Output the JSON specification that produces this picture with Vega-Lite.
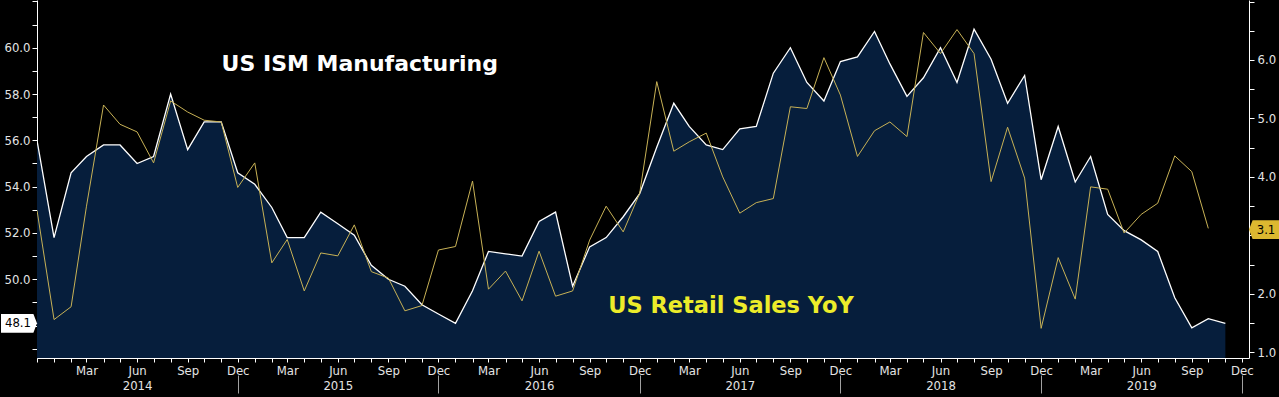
{
  "$schema": "https://vega.github.io/schema/vega-lite/v6.json",
  "width": 1212,
  "height": 358,
  "autosize": {"type": "none"},
  "padding": {"left": 37, "top": 0, "right": 30, "bottom": 39},
  "background": "#000000",
  "config": {
    "view": {"stroke": null},
    "font": "Liberation Sans Narrow, DejaVu Sans Condensed, Liberation Sans, sans-serif",
    "axis": {
      "grid": false,
      "title": null,
      "domainColor": "#ffffff",
      "tickColor": "#ffffff",
      "labelColor": "#e4e4e4",
      "labelFontSize": 13,
      "labelOverlap": false,
      "labelFont": "Liberation Sans Narrow, DejaVu Sans Condensed, Liberation Sans, sans-serif"
    }
  },
  "datasets": {
    "ism": [
      {"date": "2013-12-01", "value": 56.0},
      {"date": "2014-01-01", "value": 51.8},
      {"date": "2014-02-01", "value": 54.6},
      {"date": "2014-03-01", "value": 55.3},
      {"date": "2014-04-01", "value": 55.8},
      {"date": "2014-05-01", "value": 55.8},
      {"date": "2014-06-01", "value": 55.0},
      {"date": "2014-07-01", "value": 55.3},
      {"date": "2014-08-01", "value": 58.0},
      {"date": "2014-09-01", "value": 55.6},
      {"date": "2014-10-01", "value": 56.8},
      {"date": "2014-11-01", "value": 56.8},
      {"date": "2014-12-01", "value": 54.6},
      {"date": "2015-01-01", "value": 54.1},
      {"date": "2015-02-01", "value": 53.1},
      {"date": "2015-03-01", "value": 51.8},
      {"date": "2015-04-01", "value": 51.8},
      {"date": "2015-05-01", "value": 52.9},
      {"date": "2015-06-01", "value": 52.4},
      {"date": "2015-07-01", "value": 51.9},
      {"date": "2015-08-01", "value": 50.6},
      {"date": "2015-09-01", "value": 50.0},
      {"date": "2015-10-01", "value": 49.7},
      {"date": "2015-11-01", "value": 48.9},
      {"date": "2015-12-01", "value": 48.5},
      {"date": "2016-01-01", "value": 48.1},
      {"date": "2016-02-01", "value": 49.5},
      {"date": "2016-03-01", "value": 51.2},
      {"date": "2016-04-01", "value": 51.1},
      {"date": "2016-05-01", "value": 51.0},
      {"date": "2016-06-01", "value": 52.5},
      {"date": "2016-07-01", "value": 52.9},
      {"date": "2016-08-01", "value": 49.7},
      {"date": "2016-09-01", "value": 51.4},
      {"date": "2016-10-01", "value": 51.8},
      {"date": "2016-11-01", "value": 52.7},
      {"date": "2016-12-01", "value": 53.7},
      {"date": "2017-01-01", "value": 55.7},
      {"date": "2017-02-01", "value": 57.6},
      {"date": "2017-03-01", "value": 56.6},
      {"date": "2017-04-01", "value": 55.8},
      {"date": "2017-05-01", "value": 55.6},
      {"date": "2017-06-01", "value": 56.5},
      {"date": "2017-07-01", "value": 56.6},
      {"date": "2017-08-01", "value": 58.9},
      {"date": "2017-09-01", "value": 60.0},
      {"date": "2017-10-01", "value": 58.5},
      {"date": "2017-11-01", "value": 57.7},
      {"date": "2017-12-01", "value": 59.4},
      {"date": "2018-01-01", "value": 59.6},
      {"date": "2018-02-01", "value": 60.7},
      {"date": "2018-03-01", "value": 59.3},
      {"date": "2018-04-01", "value": 57.9},
      {"date": "2018-05-01", "value": 58.7},
      {"date": "2018-06-01", "value": 60.0},
      {"date": "2018-07-01", "value": 58.5},
      {"date": "2018-08-01", "value": 60.8},
      {"date": "2018-09-01", "value": 59.5},
      {"date": "2018-10-01", "value": 57.6},
      {"date": "2018-11-01", "value": 58.8},
      {"date": "2018-12-01", "value": 54.3},
      {"date": "2019-01-01", "value": 56.6},
      {"date": "2019-02-01", "value": 54.2},
      {"date": "2019-03-01", "value": 55.3},
      {"date": "2019-04-01", "value": 52.8},
      {"date": "2019-05-01", "value": 52.1},
      {"date": "2019-06-01", "value": 51.7},
      {"date": "2019-07-01", "value": 51.2},
      {"date": "2019-08-01", "value": 49.2},
      {"date": "2019-09-01", "value": 47.9},
      {"date": "2019-10-01", "value": 48.3},
      {"date": "2019-11-01", "value": 48.1}
    ],
    "retail": [
      {"date": "2013-12-01", "value": 3.43},
      {"date": "2014-01-01", "value": 1.56},
      {"date": "2014-02-01", "value": 1.78},
      {"date": "2014-03-01", "value": 3.50},
      {"date": "2014-04-01", "value": 5.23},
      {"date": "2014-05-01", "value": 4.90},
      {"date": "2014-06-01", "value": 4.77},
      {"date": "2014-07-01", "value": 4.24},
      {"date": "2014-08-01", "value": 5.30},
      {"date": "2014-09-01", "value": 5.11},
      {"date": "2014-10-01", "value": 4.97},
      {"date": "2014-11-01", "value": 4.94},
      {"date": "2014-12-01", "value": 3.82},
      {"date": "2015-01-01", "value": 4.24},
      {"date": "2015-02-01", "value": 2.53},
      {"date": "2015-03-01", "value": 2.93},
      {"date": "2015-04-01", "value": 2.05},
      {"date": "2015-05-01", "value": 2.70},
      {"date": "2015-06-01", "value": 2.65},
      {"date": "2015-07-01", "value": 3.18},
      {"date": "2015-08-01", "value": 2.38},
      {"date": "2015-09-01", "value": 2.27},
      {"date": "2015-10-01", "value": 1.71},
      {"date": "2015-11-01", "value": 1.80},
      {"date": "2015-12-01", "value": 2.75},
      {"date": "2016-01-01", "value": 2.81},
      {"date": "2016-02-01", "value": 3.93},
      {"date": "2016-03-01", "value": 2.08},
      {"date": "2016-04-01", "value": 2.39},
      {"date": "2016-05-01", "value": 1.88},
      {"date": "2016-06-01", "value": 2.73},
      {"date": "2016-07-01", "value": 1.96},
      {"date": "2016-08-01", "value": 2.05},
      {"date": "2016-09-01", "value": 2.92},
      {"date": "2016-10-01", "value": 3.50},
      {"date": "2016-11-01", "value": 3.06},
      {"date": "2016-12-01", "value": 3.72},
      {"date": "2017-01-01", "value": 5.63},
      {"date": "2017-02-01", "value": 4.44},
      {"date": "2017-03-01", "value": 4.60},
      {"date": "2017-04-01", "value": 4.75},
      {"date": "2017-05-01", "value": 4.00},
      {"date": "2017-06-01", "value": 3.38},
      {"date": "2017-07-01", "value": 3.56},
      {"date": "2017-08-01", "value": 3.63},
      {"date": "2017-09-01", "value": 5.20},
      {"date": "2017-10-01", "value": 5.17},
      {"date": "2017-11-01", "value": 6.04},
      {"date": "2017-12-01", "value": 5.40},
      {"date": "2018-01-01", "value": 4.35},
      {"date": "2018-02-01", "value": 4.79},
      {"date": "2018-03-01", "value": 4.94},
      {"date": "2018-04-01", "value": 4.69},
      {"date": "2018-05-01", "value": 6.47},
      {"date": "2018-06-01", "value": 6.11},
      {"date": "2018-07-01", "value": 6.52},
      {"date": "2018-08-01", "value": 6.11},
      {"date": "2018-09-01", "value": 3.92},
      {"date": "2018-10-01", "value": 4.85},
      {"date": "2018-11-01", "value": 3.98},
      {"date": "2018-12-01", "value": 1.41},
      {"date": "2019-01-01", "value": 2.62},
      {"date": "2019-02-01", "value": 1.91},
      {"date": "2019-03-01", "value": 3.83},
      {"date": "2019-04-01", "value": 3.79},
      {"date": "2019-05-01", "value": 3.04},
      {"date": "2019-06-01", "value": 3.36},
      {"date": "2019-07-01", "value": 3.55},
      {"date": "2019-08-01", "value": 4.36},
      {"date": "2019-09-01", "value": 4.09},
      {"date": "2019-10-01", "value": 3.12}
    ]
  },
  "layer": [
    {
      "layer": [
        {
          "data": {"name": "ism"},
          "mark": {"type": "area", "color": "#061e3c", "opacity": 1, "clip": true},
          "encoding": {
            "x": {
              "field": "date", "type": "temporal",
              "scale": {"domain": [{"year": 2013, "month": 12, "date": 1}, {"year": 2019, "month": 12, "date": 14}], "nice": false},
              "axis": {
                "orient": "bottom",
                "tickCount": {"interval": "month", "step": 1},
                "tickSize": 4,
                "labelFlush": false,
                "labelPadding": 2,
                "labelLineHeight": 15,
                "labelExpr": "year(datum.value) < 2014 ? '' : month(datum.value) == 5 ? ['Jun', '' + year(datum.value)] : month(datum.value) == 2 ? 'Mar' : month(datum.value) == 8 ? 'Sep' : month(datum.value) == 11 ? 'Dec' : ''"
              }
            },
            "y": {
              "field": "value", "type": "quantitative",
              "scale": {"domain": [46.6, 62.06], "zero": false, "nice": false},
              "axis": {
                "orient": "left",
                "values": [47, 48, 49, 50, 51, 52, 53, 54, 55, 56, 57, 58, 59, 60, 61, 62],
                "tickCount": 100,
                "tickSize": 5,
                "labelPadding": 2,
                "labelExpr": "indexof([50, 52, 54, 56, 58, 60], datum.value) >= 0 ? format(datum.value, '.1f') : ''"
              }
            },
            "y2": {"datum": 46.6}
          }
        },
        {
          "data": {"name": "ism"},
          "mark": {"type": "line", "color": "#ffffff", "strokeWidth": 1.3, "clip": true},
          "encoding": {
            "x": {"field": "date", "type": "temporal"},
            "y": {"field": "value", "type": "quantitative"}
          }
        },
        {
          "data": {"values": [{}]},
          "mark": {"type": "text", "text": "US ISM Manufacturing", "color": "#ffffff", "font": "DejaVu Sans", "fontWeight": "bold", "fontSize": 22, "align": "center", "baseline": "middle"},
          "encoding": {
            "x": {"datum": {"year": 2015, "month": 7, "date": 11}, "type": "temporal"},
            "y": {"datum": 59.3, "type": "quantitative"}
          }
        },
        {
          "data": {"values": [{}]},
          "mark": {"type": "point", "shape": "M-2,-0.52L-0.2,-0.52L0,0L-0.2,0.52L-2,0.52Z", "size": 1296, "filled": true, "color": "#ffffff", "opacity": 1, "strokeWidth": 0},
          "encoding": {
            "x": {"datum": {"year": 2013, "month": 12, "date": 1}, "type": "temporal"},
            "y": {"datum": 48.1, "type": "quantitative"}
          }
        },
        {
          "data": {"values": [{}]},
          "mark": {"type": "text", "text": "48.1", "color": "#000000", "fontSize": 13, "align": "center", "baseline": "middle", "dx": -19},
          "encoding": {
            "x": {"datum": {"year": 2013, "month": 12, "date": 1}, "type": "temporal"},
            "y": {"datum": 48.1, "type": "quantitative"}
          }
        }
      ]
    },
    {
      "layer": [
        {
          "data": {"name": "retail"},
          "mark": {"type": "line", "color": "#c8b256", "strokeWidth": 1, "clip": true},
          "encoding": {
            "x": {
              "field": "date", "type": "temporal",
              "axis": {
                "orient": "bottom",
                "values": [{"year": 2014, "month": 12, "date": 1}, {"year": 2015, "month": 12, "date": 1}, {"year": 2016, "month": 12, "date": 1}, {"year": 2017, "month": 12, "date": 1}, {"year": 2018, "month": 12, "date": 1}, {"year": 2019, "month": 12, "date": 1}],
                "tickCount": 100,
                "offset": 17,
                "tickSize": 18,
                "tickColor": "#a0a0a0",
                "domain": false,
                "labels": false
              }
            },
            "y": {
              "field": "value", "type": "quantitative",
              "scale": {"domain": [0.903, 7.026], "zero": false, "nice": false},
              "axis": {
                "orient": "right",
                "values": [1, 1.5, 2, 2.5, 3, 3.5, 4, 4.5, 5, 5.5, 6, 6.5, 7],
                "tickCount": 100,
                "tickSize": 5,
                "labelPadding": 3,
                "labelExpr": "indexof([1, 2, 4, 5, 6], datum.value) >= 0 ? format(datum.value, '.1f') : ''"
              }
            }
          }
        },
        {
          "data": {"values": [{}]},
          "mark": {"type": "text", "text": "US Retail Sales YoY", "color": "#ecec2a", "font": "DejaVu Sans", "fontWeight": "bold", "fontSize": 22.5, "align": "center", "baseline": "middle"},
          "encoding": {
            "x": {"datum": {"year": 2017, "month": 5, "date": 16}, "type": "temporal"},
            "y": {"datum": 1.79, "type": "quantitative"}
          }
        },
        {
          "data": {"values": [{}]},
          "mark": {"type": "point", "shape": "M0,0L0.2,-0.52L1.7,-0.52L1.7,0.52L0.2,0.52Z", "size": 1296, "filled": true, "color": "#dcb830", "opacity": 1, "strokeWidth": 0},
          "encoding": {
            "x": {"datum": {"year": 2019, "month": 12, "date": 14}, "type": "temporal"},
            "y": {"datum": 3.1, "type": "quantitative"}
          }
        },
        {
          "data": {"values": [{}]},
          "mark": {"type": "text", "text": "3.1", "color": "#000000", "fontSize": 13, "align": "center", "baseline": "middle", "dx": 17},
          "encoding": {
            "x": {"datum": {"year": 2019, "month": 12, "date": 14}, "type": "temporal"},
            "y": {"datum": 3.1, "type": "quantitative"}
          }
        }
      ]
    }
  ],
  "resolve": {"scale": {"y": "independent"}, "axis": {"x": "independent"}}
}
